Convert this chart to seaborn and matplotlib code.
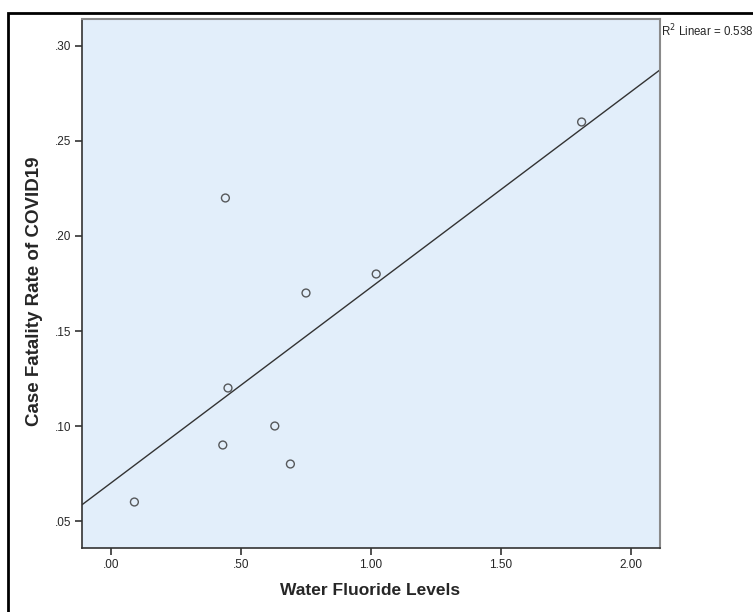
import matplotlib
matplotlib.use("Agg")
import matplotlib.pyplot as plt
import seaborn as sns
import pandas as pd
from matplotlib.patches import Rectangle

# Values
fluoride = [0.09, 0.43, 0.44, 0.45, 0.63, 0.69, 0.75, 1.02, 1.81]
fatality = [0.06, 0.09, 0.22, 0.12, 0.10, 0.08, 0.17, 0.18, 0.26]
x_ticks = [0.0, 0.5, 1.0, 1.5, 2.0]
x_tick_labels = [".00", ".50", "1.00", "1.50", "2.00"]
y_ticks = [0.05, 0.10, 0.15, 0.20, 0.25, 0.30]
y_tick_labels = [".05", ".10", ".15", ".20", ".25", ".30"]
r2_text = "R$^2$ Linear = 0.538"

data = pd.DataFrame({"Water Fluoride Levels": fluoride,
                     "Case Fatality Rate of COVID19": fatality})

sns.set_style("ticks")
plt.rcParams["font.family"] = ["Liberation Sans", "DejaVu Sans"]

fig = plt.figure(figsize=(7.53, 6.12), dpi=100)
ax = fig.add_axes([82 / 753, 1 - 548 / 612, (660 - 82) / 753, (548 - 19) / 612])
ax.set_facecolor("#E2EEFA")

# outer frame (runs off the right and bottom edges like the SPSS export)
fig.patches.append(Rectangle((8 / 753, -0.05), 1.2, 1 - 13 / 612 + 0.05,
                             transform=fig.transFigure, fill=False,
                             edgecolor="black", linewidth=2, zorder=0))

ax.set_xlim(-0.1115, 2.1115)
ax.set_ylim(0.0358, 0.3142)

sns.regplot(data=data, x="Water Fluoride Levels", y="Case Fatality Rate of COVID19",
            ax=ax, ci=None, truncate=False,
            scatter_kws=dict(facecolors="none", edgecolors="#333333", s=32, linewidths=1),
            line_kws=dict(color="#333333", linewidth=1))

ax.set_xlim(-0.1115, 2.1115)
ax.set_ylim(0.0358, 0.3142)
ax.set_xticks(x_ticks)
ax.set_xticklabels(x_tick_labels)
ax.set_yticks(y_ticks)
ax.set_yticklabels(y_tick_labels)
ax.tick_params(axis="both", labelsize=8.5, length=5, width=1.2, color="#333333", pad=3)

for side in ["left", "bottom"]:
    ax.spines[side].set_color("#333333")
    ax.spines[side].set_linewidth(1.2)
for side in ["top", "right"]:
    ax.spines[side].set_visible(True)
    ax.spines[side].set_color("#8A8A8A")
    ax.spines[side].set_linewidth(1.5)

ax.set_xlabel("Water Fluoride Levels", fontsize=12.5, fontweight="bold")
ax.set_ylabel("Case Fatality Rate of COVID19", fontsize=13.5, fontweight="bold")
ax.xaxis.set_label_coords(0.498, -0.066)
ax.yaxis.set_label_coords(-0.068, 0.486)

fig.text(660 / 753 + 0.001, 1 - 31 / 612, r2_text, fontsize=8.3, va="center", ha="left")

fig.savefig("out.png", dpi=100)
